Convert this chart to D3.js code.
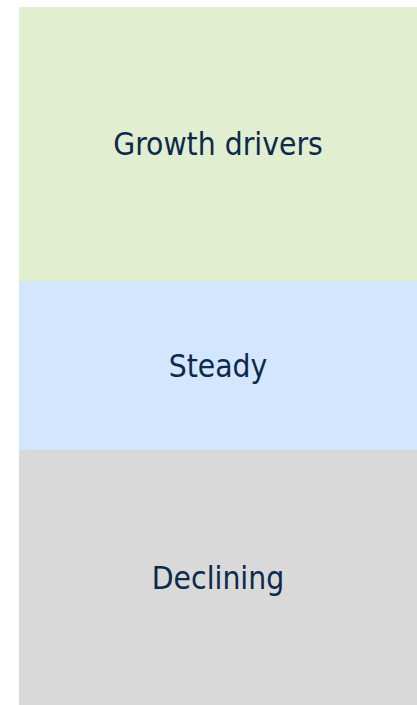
<!DOCTYPE html>
<html>
<head>
<meta charset="utf-8">
<script src="https://cdn.jsdelivr.net/npm/d3@7"></script>
<style>
  html, body { margin: 0; padding: 0; background: #fff; }
  svg { display: block; }
</style>
</head>
<body>
<svg id="chart" width="417" height="705"></svg>
<script>
// segment labels, shares and fills
var categories = ["Growth drivers", "Steady", "Declining"];
var shares = [39.3, 24.2, 36.5];
var fills = ["#e2eed0", "#d3e6fd", "#d9d9d9"];

var svg = d3.select("#chart");
var margin = {top: 7, right: 0, bottom: 0, left: 19};
var width = +svg.attr("width") - margin.left - margin.right;
var height = +svg.attr("height") - margin.top - margin.bottom;

var root = d3.hierarchy({
    children: categories.map(function(c, i) { return {name: c, value: shares[i], i: i}; })
  })
  .sum(function(d) { return d.value || 0; });

d3.treemap()
  .tile(d3.treemapSlice)
  .size([width, height])
  .round(true)(root);

var g = svg.append("g")
  .attr("transform", "translate(" + margin.left + "," + margin.top + ")");

var cell = g.selectAll("g.cell")
  .data(root.leaves())
  .enter().append("g")
  .attr("class", "cell");

cell.append("rect")
  .attr("x", function(d) { return d.x0; })
  .attr("y", function(d) { return d.y0; })
  .attr("width", function(d) { return d.x1 - d.x0; })
  .attr("height", function(d) { return d.y1 - d.y0; })
  .attr("fill", function(d) { return fills[d.data.i]; });

// baseline sits half a cap height below the cell centre
cell.append("text")
  .attr("x", function(d) { return (d.x0 + d.x1) / 2; })
  .attr("y", function(d) { return (d.y0 + d.y1) / 2; })
  .attr("dy", "0.36em")
  .attr("text-anchor", "middle")
  .attr("font-family", "'DejaVu Sans Condensed', 'DejaVu Sans', sans-serif")
  .attr("font-stretch", "condensed")
  .attr("font-size", 31.5)
  .attr("fill", "#0c2a4d")
  .text(function(d) { return d.data.name; });
</script>
</body>
</html>
